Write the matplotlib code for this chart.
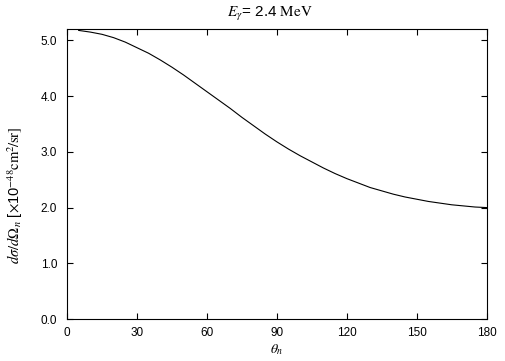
import matplotlib.pyplot as plt
import numpy as np

# angle of the outgoing neutron (deg) and differential cross section (1e-48 cm^2/sr)
theta_n = [5, 10, 15, 20, 25, 30, 35, 40, 45, 50, 55, 60, 65, 70, 75, 80, 85, 90,
           95, 100, 105, 110, 115, 120, 125, 130, 135, 140, 145, 150, 155, 160,
           165, 170, 175, 180]
dsigma = [5.18, 5.15, 5.11, 5.05, 4.97, 4.87, 4.77, 4.65, 4.52, 4.38, 4.23, 4.08,
          3.93, 3.78, 3.62, 3.47, 3.32, 3.18, 3.05, 2.93, 2.82, 2.71, 2.61, 2.52,
          2.44, 2.36, 2.30, 2.24, 2.19, 2.15, 2.11, 2.08, 2.05, 2.03, 2.01, 2.00]
x_ticks = [0, 30, 60, 90, 120, 150, 180]
y_ticks = [0.0, 1.0, 2.0, 3.0, 4.0, 5.0]

plt.rcParams["font.family"] = ["Liberation Sans", "DejaVu Sans"]
plt.rcParams["mathtext.fontset"] = "stix"

fig = plt.figure(figsize=(5.05, 3.61), dpi=100)
ax = fig.add_axes([67 / 505, 42 / 361, 419.7 / 505, 289.7 / 361])

ax.plot(theta_n, dsigma, color="black", linewidth=0.8)

ax.set_xlim(0, 180)
ax.set_ylim(0, 5.2)
ax.set_xticks(x_ticks)
ax.set_yticks(y_ticks)
ax.set_yticklabels([f"{v:.1f}" for v in y_ticks])
ax.tick_params(direction="in", length=4.5, width=0.8, top=True, right=True,
               labelsize=8.5)
ax.tick_params(axis="x", pad=6)
ax.tick_params(axis="y", pad=7)
for s in ax.spines.values():
    s.set_linewidth(0.8)

ax.set_title(r"$E_\gamma$= 2.4 $\mathrm{MeV}$", fontsize=11, x=0.484, pad=9)
ax.set_xlabel(r"$\theta_n$", fontsize=10, labelpad=2)
ax.set_ylabel(r"$d\sigma/d\Omega_n$ [$\times$10$^{-48}$$\mathrm{cm}^2\!/\mathrm{sr}]$",
              fontsize=10.5)
ax.yaxis.set_label_coords(-0.1, 0.426)

fig.savefig("out.png", dpi=100)
